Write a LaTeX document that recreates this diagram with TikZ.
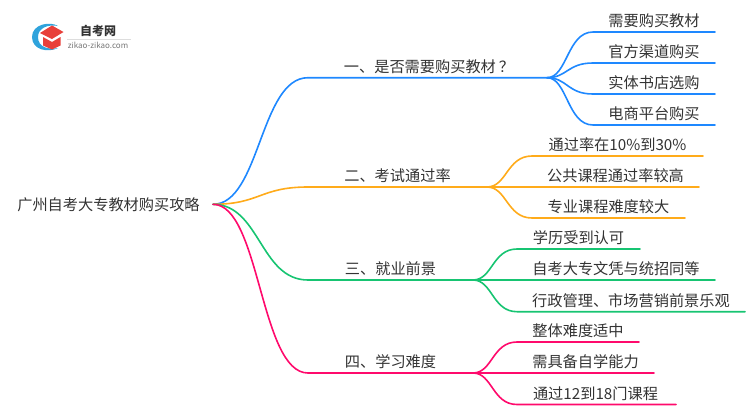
\documentclass[tikz,border=0pt]{standalone}
\usetikzlibrary{calc}
\usepackage{fontspec}
\setmainfont{Noto Sans CJK SC}
\definecolor{cblue}{HTML}{1E88FF}
\definecolor{corange}{HTML}{FFAB1A}
\definecolor{cgreen}{HTML}{17C472}
\definecolor{cpink}{HTML}{FF0A6C}
\definecolor{ctext}{HTML}{333333}
\definecolor{cgreyt}{HTML}{777777}
\definecolor{crule}{HTML}{DDDDDD}
\definecolor{cred}{HTML}{E8403A}
\definecolor{clogob}{HTML}{2FA3DC}
\tikzset{
  lbl/.style={inner sep=0pt,outer sep=0pt,minimum height=22pt,anchor=south west,align=center,
    text=ctext,font=\fontsize{15.2}{18}\selectfont},
  wire/.style={line width=1.6pt,line cap=round},
}
\begin{document}
\begin{tikzpicture}[x=1pt,y=-1pt]
\useasboundingbox (0,0) rectangle (750,410);
% logo
\fill[clogob] (58,26) .. controls (50,21) and (32,24) .. (32,37) .. controls (32,50) and (48,53) .. (58,48)
  .. controls (48,50) and (38,47) .. (38,37) .. controls (38,28) and (48,24) .. (58,26) -- cycle;
\fill[cred] (40,33) -- (52,25.5) -- (63.5,32) -- (52,39) -- cycle;
\fill[cred] (43,37) -- (52,42) -- (60.5,37) -- (60.5,45.5) -- (52,49.5) -- (43,45.5) -- cycle;
\node[inner sep=0pt,text=ctext,font=\fontsize{12}{14}\bfseries\selectfont] (logotitle) at (98,31) {自考网};
\node[inner sep=0pt,text=cgreyt,font=\fontsize{8}{10}\selectfont] (logosub) at (98,45) {zikao-zikao.com};
\draw[crule,line width=0.6pt] (67,39) -- (131,39);
% root
\node[inner sep=0pt,text=ctext,font=\fontsize{15.2}{18}\selectfont] (root) at (108.5,204.5) {广州自考大专教材购买攻略};
\coordinate (hub) at (213,204.3);
\coordinate (vmid) at (260,0);
% branches
\node[lbl,minimum width=239pt] (b1) at (308,77.7) {一、是否需要购买教材\hspace{3pt}？\hspace{-3pt}};
\node[lbl,minimum width=179pt] (b2) at (308,187) {二、考试通过率};
\node[lbl,minimum width=165pt] (b3) at (308,280) {三、就业前景};
\node[lbl,minimum width=165pt] (b4) at (308,373) {四、学习难度};
% leaves
\node[lbl,minimum width=122pt] (a1) at (593,32) {需要购买教材};
\node[lbl,minimum width=122pt] (a2) at (593,63) {官方渠道购买};
\node[lbl,minimum width=122pt] (a3) at (593,94) {实体书店选购};
\node[lbl,minimum width=122pt] (a4) at (593,125) {电商平台购买};
\node[lbl,minimum width=171pt] (c1) at (532,156) {通过率在10\%到30\%};
\node[lbl,minimum width=167pt] (c2) at (532,187) {公共课程通过率较高};
\node[lbl,minimum width=153pt] (c3) at (532,218) {专业课程难度较大};
\node[lbl,minimum width=123pt] (d1) at (517,249) {学历受到认可};
\node[lbl,minimum width=198pt] (d2) at (517,280) {自考大专文凭与统招同等};
\node[lbl,minimum width=228pt] (d3) at (517,311.7) {行政管理、市场营销前景乐观};
\node[lbl,minimum width=122pt] (e1) at (517,342) {整体难度适中};
\node[lbl,minimum width=137pt] (e2) at (517,373) {需具备自学能力};
\node[lbl,minimum width=159pt] (e3) at (517,404.5) {\hspace{-2pt}通过12到18门课程};
% connectors
\foreach \nn/\cc in {b1/cblue,b2/corange,b3/cgreen,b4/cpink}{
  \draw[wire,\cc] (hub) .. controls (vmid |- hub) and (vmid |- \nn.south west) .. (\nn.south west) -- (\nn.south east);
}
\foreach \pp/\nn/\cc in {b1/a1/cblue,b1/a2/cblue,b1/a3/cblue,b1/a4/cblue,
                      b2/c1/corange,b2/c2/corange,b2/c3/corange,
                      b3/d1/cgreen,b3/d2/cgreen,b3/d3/cgreen,
                      b4/e1/cpink,b4/e2/cpink,b4/e3/cpink}{
  \coordinate (mx) at ($(\pp.south east)!0.44!(\nn.south west)$);
  \draw[wire,\cc] (\pp.south east) .. controls (mx |- \pp.south east) and (mx |- \nn.south west) .. (\nn.south west) -- (\nn.south east);
}
\end{tikzpicture}
\end{document}
